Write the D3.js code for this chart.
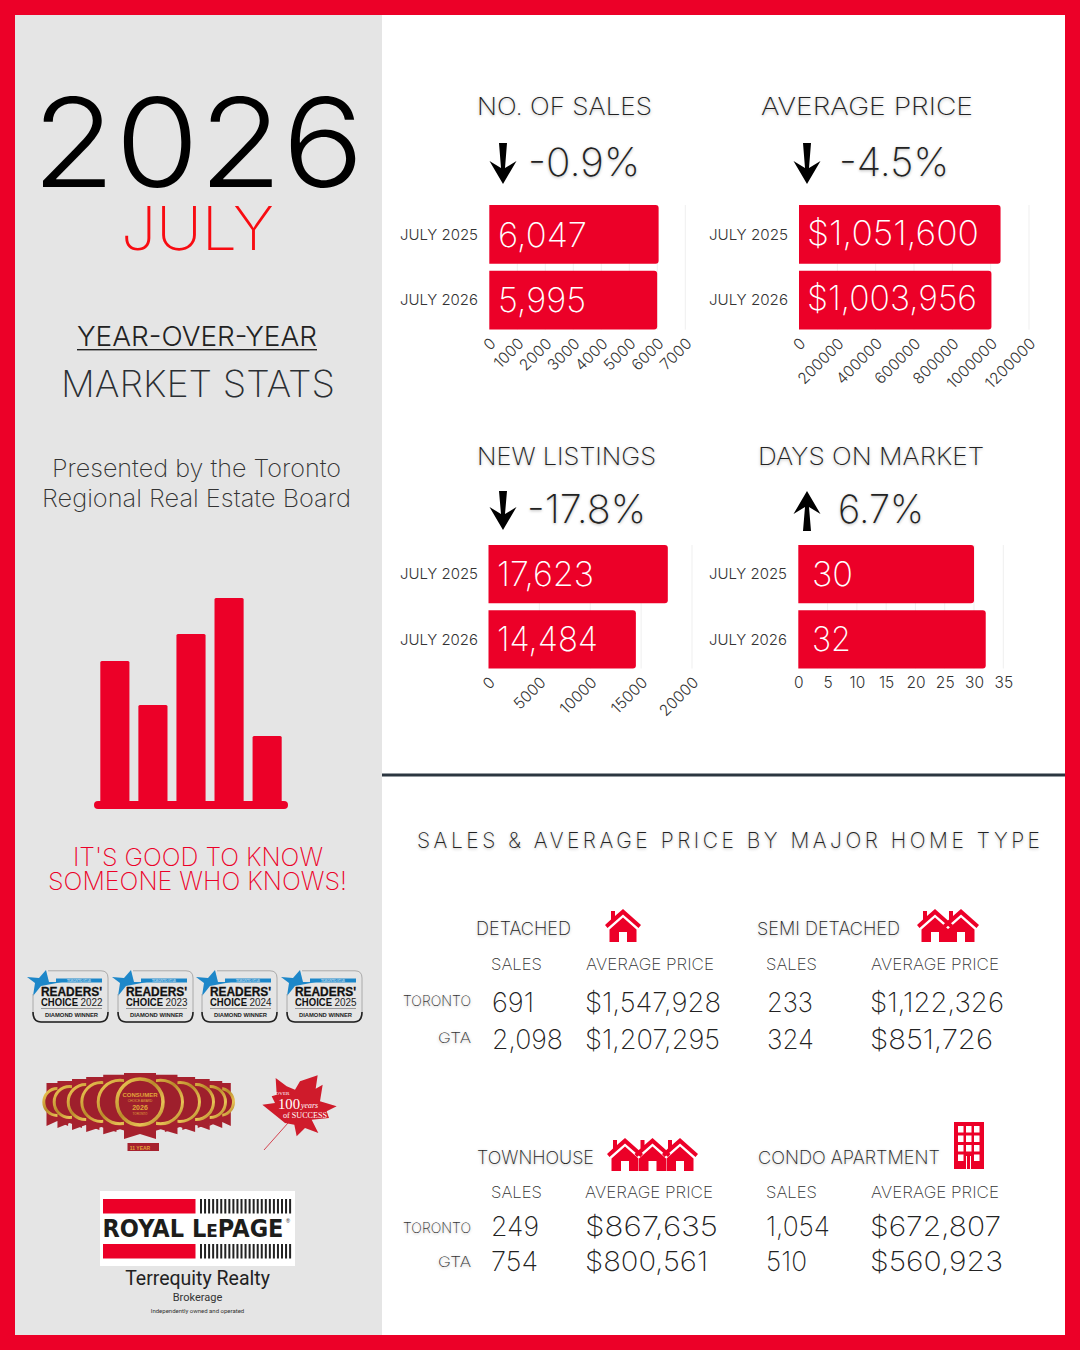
<!DOCTYPE html>
<html><head><meta charset="utf-8">
<script src="https://cdn.jsdelivr.net/npm/d3@7"></script>
<style>html,body{margin:0;padding:0;background:#fff}svg{display:block}</style></head>
<body><svg id="c" width="1080" height="1350"></svg>
<script>
const yearCats = ["JULY 2025","JULY 2026"];
const salesValues = [6047,5995];
const priceValues = [1051600,1003956];
const listingValues = [17623,14484];
const domValues = [30,32];
const salesTicks = [0,1000,2000,3000,4000,5000,6000,7000];
const priceTicks = [0,200000,400000,600000,800000,1000000,1200000];
const listingTicks = [0,5000,10000,15000,20000];
const domTicks = [0,5,10,15,20,25,30,35];
const chartTitles = ["NO. OF SALES","AVERAGE PRICE","NEW LISTINGS","DAYS ON MARKET"];
const changes = ["-0.9%","-4.5%","-17.8%","6.7%"];
const iconBars = [141,97,168,204,66];
const homeTypes = ["DETACHED","SEMI DETACHED","TOWNHOUSE","CONDO APARTMENT"];
const regions = ["TORONTO","GTA"];
const typeSales = [["691","2,098"],["233","324"],["249","754"],["1,054","510"]];
const typePrices = [["$1,547,928","$1,207,295"],["$1,122,326","$851,726"],["$867,635","$800,561"],["$672,807","$560,923"]];
const badgeYears = ["2022","2023","2024","2025"];

const RED="#ec0028", FF="Inter, Lato, sans-serif";
const svg=d3.select("#c");
const defs=svg.append("defs");
const gold=defs.append("linearGradient").attr("id","gold").attr("x1",0).attr("y1",0).attr("x2",1).attr("y2",1);
[["0","#f4cf5a"],["0.45","#b98a2a"],["0.75","#e8c356"],["1","#a8771f"]].forEach(s=>gold.append("stop").attr("offset",s[0]).attr("stop-color",s[1]));
function T(p,s,x,cy,size,w,o={}){
  const t=p.append("text").text(s).attr("x",x).attr("y",cy+size*0.36)
   .attr("font-family",o.ff||FF).attr("font-size",size).attr("font-weight",o.fw||300)
   .attr("fill",o.fill||"#222").attr("text-anchor",o.a||"start");
  if(w)t.attr("textLength",w).attr("lengthAdjust",o.adj||"spacingAndGlyphs");
  if(o.shadow)t.style("text-shadow","0 1px 3px rgba(0,0,0,.3)");
  return t;
}
svg.append("rect").attr("width",1080).attr("height",1350).attr("fill",RED);
svg.append("rect").attr("x",15).attr("y",15).attr("width",1050).attr("height",1320).attr("fill","#fff");
svg.append("rect").attr("x",15).attr("y",15).attr("width",367).attr("height",1320).attr("fill","#e5e5e5");
svg.append("rect").attr("x",382).attr("y",773.5).attr("width",683).attr("height",3).attr("fill","#2b3640");

// left panel
const L=svg.append("g");
T(L,"2026",32,142.5,124,332,{fill:"#000"});
T(L,"JULY",121,228,60,153,{fill:"#f80c12",fw:200});
T(L,"YEAR-OVER-YEAR",77,336,27,240,{fill:"#222"});
L.append("rect").attr("x",77).attr("y",349).attr("width",240).attr("height",1.4).attr("fill","#222");
T(L,"MARKET STATS",61,384,37,274,{fill:"#2b2f33",fw:200});
T(L,"Presented by the Toronto",52,468,24,289,{fill:"#333",fw:200});
T(L,"Regional Real Estate Board",42,498,24,309,{fill:"#333",fw:200});
T(L,"IT'S GOOD TO KNOW",73,857,25,250,{fill:RED,fw:200});
T(L,"SOMEONE WHO KNOWS!",48,881,25,299,{fill:RED,fw:200});

// icon bars
const ibx=d3.scaleBand().domain(d3.range(iconBars.length)).range([96.5,285.5]).paddingInner(0.235).paddingOuter(0.1);
const iby=d3.scaleLinear().domain([0,204]).range([802,598]);
L.selectAll(".ib").data(iconBars).join("rect").attr("x",(d,i)=>ibx(i)).attr("width",ibx.bandwidth())
 .attr("y",d=>iby(d)).attr("height",d=>802-iby(d)).attr("fill",RED).attr("rx",1.5);
L.append("rect").attr("x",94).attr("y",801).attr("width",194).attr("height",8).attr("rx",4).attr("fill",RED);

// charts
const charts=[
 {v:salesValues,t:salesTicks,x0:489.3,x1:685.3,y0:205,y1:329.6,lab:[498],cy:[234.5,299.5],w:[89,88],lx:400,lw:78,rot:1,title:[477,175,106],ch:[528,112,162],arr:[503,143,184,0],f:d3.format(",")},
 {v:priceValues,t:priceTicks,x0:799,x1:1029,y0:205,y1:329.6,cy:[232.5,297.5],lab:[807],w:[172,170],lx:709,lw:79,rot:1,title:[761,212,106],ch:[839,110,162],arr:[807,143,184,0],f:d=>"$"+d3.format(",")(d)},
 {v:listingValues,t:listingTicks,x0:488.5,x1:692,y0:545,y1:668.5,cy:[573.5,638.5],lab:[497],w:[97,101],lx:400,lw:78,rot:1,title:[477,179,456],ch:[527,119,509],arr:[503,491,530,0],f:d3.format(",")},
 {v:domValues,t:domTicks,x0:798.3,x1:1003.3,y0:545,y1:668.5,cy:[573.5,638.5],lab:[812],w:[41,39],lx:709,lw:78,rot:0,title:[758,226,456],ch:[838,86,509],arr:[807,491,531,1],f:d=>d}
];
charts.forEach((c,i)=>{
 const g=svg.append("g");
 const x=d3.scaleLinear().domain([0,c.t[c.t.length-1]]).range([c.x0,c.x1]);
 const y=d3.scaleBand().domain(yearCats).range([c.y0,c.y1]).paddingInner(0.105);
 g.selectAll(".g").data(c.t.slice(1)).join("line").attr("x1",d=>x(d)).attr("x2",d=>x(d)).attr("y1",c.y0).attr("y2",c.y1).attr("stroke","#efefef");
 const ax=g.append("g").attr("transform",`translate(0,${c.y1})`).call(d3.axisBottom(x).tickValues(c.t).tickSize(0).tickFormat(d=>d));
 ax.select(".domain").remove();
 ax.selectAll("text").attr("font-family",FF).attr("font-weight",300).attr("font-size",15.5).attr("fill","#333");
 if(c.rot){
  ax.selectAll("text").attr("text-anchor","end").attr("dy",0).attr("y",0)
   .attr("transform",`translate(7,15) rotate(-45)`);
 } else {
  ax.selectAll("text").attr("y",8).attr("dy","0.71em");
 }
 g.selectAll(".b").data(c.v).join("path").attr("fill",RED)
  .attr("d",(d,k)=>{const X=x(d),Y=y(yearCats[k]),H=y.bandwidth(),r=3;
    return `M${c.x0},${Y}H${X-r}Q${X},${Y} ${X},${Y+r}V${Y+H-r}Q${X},${Y+H} ${X-r},${Y+H}H${c.x0}Z`;});
 c.v.forEach((d,k)=>{
  T(g,c.f(d),c.lab[0],c.cy[k],34,c.w[k],{fill:"#fff",fw:200});
  T(g,yearCats[k],c.lx,y(yearCats[k])+y.bandwidth()/2,14.5,c.lw,{fill:"#333"});
 });
 T(g,chartTitles[i],c.title[0],c.title[2],24,c.title[1],{fill:"#222",shadow:1,fw:200});
 T(g,changes[i],c.ch[0],c.ch[2],39,c.ch[1],{fill:"#222",shadow:1,fw:200});
 const [ax0,t,b,up]=c.arr;
 const ah=18,aw=13.5,sw=3;
 const pts=up?[[ax0,t],[ax0+aw,t+ah+5],[ax0+2,t+16],[ax0+sw+1,b],[ax0-sw-1,b],[ax0-2,t+16],[ax0-aw,t+ah+5]]
             :[[ax0,b],[ax0+aw,b-ah-5],[ax0+2,b-16],[ax0+sw+1,t],[ax0-sw-1,t],[ax0-2,b-16],[ax0-aw,b-ah-5]];
 g.append("polygon").attr("points",pts.map(p=>p.join(",")).join(" ")).attr("fill","#000");
});

// table
const R=svg.append("g");
T(R,"SALES & AVERAGE PRICE BY MAJOR HOME TYPE",417,840,21,623,{fill:"#222",adj:"spacing",shadow:1,fw:200});
function house(g,x,y,s){
 const h=g.append("g").attr("transform",`translate(${x},${y}) scale(${s})`);
 h.append("path").attr("fill",RED).attr("d","M18,0 L36,16 L33.5,19 L18,5.5 L2.5,19 L0,16 L6,10.6 L6,2 L10,2 L10,7 Z");
 h.append("path").attr("fill",RED).attr("d","M18,8.5 L31.5,20.5 L31.5,33 L22,33 L22,23 L14,23 L14,33 L4.5,33 L4.5,20.5 Z");
}
const layout=[
 {tx:476,tw:95,ty:929,sx:491,px:586,hy:964,rowL:[1001,1038],rowV:[1002,1039],vx:[492,585],sw:[42,71],pw:[136,135]},
 {tx:757,tw:143,ty:929,sx:766,px:871,hy:964,rowV:[1002,1039],vx:[767,870],sw:[46,47],pw:[134,123]},
 {tx:477,tw:117,ty:1158,sx:491,px:585,hy:1192,rowL:[1228,1262],rowV:[1226,1261],vx:[491,585],sw:[48,47],pw:[133,123]},
 {tx:758,tw:182,ty:1158,sx:766,px:871,hy:1192,rowV:[1226,1261],vx:[766,870],sw:[64,41],pw:[131,133]}
];
layout.forEach((l,i)=>{
 T(R,homeTypes[i],l.tx,l.ty,18,l.tw,{fill:"#222",shadow:1,fw:200});
 T(R,"SALES",l.sx,l.hy,16.5,51,{fill:"#333",fw:200});
 T(R,"AVERAGE PRICE",l.px,l.hy,16.5,128,{fill:"#333",fw:200});
 if(l.rowL) regions.forEach((r,k)=>T(R,r,471,l.rowL[k],14.5,r=="GTA"?33:68,{a:"end",fill:"#333",shadow:1,fw:200}));
 [0,1].forEach(k=>{
  T(R,typeSales[i][k],l.vx[0],l.rowV[k],27,l.sw[k],{fill:"#222",fw:200});
  T(R,typePrices[i][k],l.vx[1],l.rowV[k],27,l.pw[k],{fill:"#222",fw:200});
 });
});
house(R,605,909,1);
house(R,917,909,1);house(R,943,909,1);
house(R,607,1138,1);house(R,634.5,1138,1);house(R,662,1138,1);
R.append("rect").attr("x",954).attr("y",1122).attr("width",30).attr("height",47).attr("fill",RED);
d3.range(4).forEach(r=>d3.range(3).forEach(c=>{
  if(r<3||c!==1) R.append("rect").attr("x",958+c*8).attr("y",1126+r*9.5).attr("width",5.5).attr("height",6.5).attr("fill","#fff");
}));
R.append("rect").attr("x",966).attr("y",1156).attr("width",1).attr("height",13).attr("fill","#fff");
R.append("rect").attr("x",970).attr("y",1156).attr("width",1).attr("height",13).attr("fill","#fff");

// badges
const B=svg.append("g"), LS="'Liberation Sans'";
badgeYears.forEach((yr,i)=>{
 const x=[32,117,201,286][i], g=B.append("g").attr("transform",`translate(${x},970)`);
 g.append("path").attr("fill","#1d87c9").attr("d","M14,0 L17,12 L30,12 L9,16 L1,26 L3,13 L-5,7 L7,8 Z");
 g.append("path").attr("d","M16,.8 H69 Q76,.8 76,8 V44 Q76,52 68,52 H9 Q1,52 1,44 V24").attr("fill","none").attr("stroke","#aaa").attr("stroke-width",1);
 g.append("path").attr("d","M1,42 Q1,52 9,52 H68 Q76,52 76,42").attr("fill","none").attr("stroke","#222").attr("stroke-width",1.6);
 g.append("rect").attr("x",24).attr("y",8.5).attr("width",46).attr("height",4).attr("fill","#1d87c9");
 g.append("text").text("TORONTO STAR").attr("x",47).attr("y",11.8).attr("font-size",3.2).attr("fill","#fff").attr("text-anchor","middle").attr("font-family","Liberation Serif");
 g.append("text").text("READERS'").attr("x",9).attr("y",25.5).attr("font-size",12).attr("font-weight",700).attr("font-family",LS).attr("fill","#111").attr("stroke","#111").attr("stroke-width",.3).attr("textLength",61).attr("lengthAdjust","spacingAndGlyphs");
 g.append("text").text("CHOICE").attr("x",9).attr("y",35.5).attr("font-size",10.5).attr("font-weight",700).attr("font-family",LS).attr("fill","#111").attr("textLength",37).attr("lengthAdjust","spacingAndGlyphs");
 g.append("text").text(yr).attr("x",48.5).attr("y",35.5).attr("font-size",10.5).attr("font-family",LS).attr("fill","#222").attr("textLength",22).attr("lengthAdjust","spacingAndGlyphs");
 g.append("rect").attr("x",9).attr("y",38).attr("width",61).attr("height",1).attr("fill","#999");
 g.append("text").text("DIAMOND WINNER").attr("x",39.5).attr("y",46.5).attr("font-size",5.5).attr("font-weight",700).attr("font-family",LS).attr("fill","#222").attr("text-anchor","middle").attr("textLength",53).attr("lengthAdjust","spacingAndGlyphs");
});

// medals
const M=svg.append("g"), CY=1102;
const rings=[[57.3,15],[220,15],[69.7,17],[210,17],[85.7,19],[196,19],[101.3,21],[180,21],[120,23.3],[160.7,23.3]];
const ribbon=(cx,r,top,bot,hw)=>M.append("path").attr("fill","#a6212e").attr("d",`M${cx-hw},${top} H${cx+hw} V${bot} L${cx},${bot-5} L${cx-hw},${bot} Z`);
rings.forEach(([cx,r])=>{
 ribbon(cx,r,CY-r-4,CY+r+9,r*.72);
 M.append("circle").attr("cx",cx).attr("cy",CY).attr("r",r-1.5).attr("fill","#9e1f2c").attr("stroke","url(#gold)").attr("stroke-width",3);
});
ribbon(140,25,1073,1139,16);
M.append("rect").attr("x",127.5).attr("y",1143).attr("width",31.5).attr("height",8).attr("fill","#a6212e");
M.append("circle").attr("cx",140).attr("cy",CY).attr("r",23).attr("fill","#9e1f2c").attr("stroke","url(#gold)").attr("stroke-width",3.5);
const mt=(s,y,sz,w)=>M.append("text").text(s).attr("x",140).attr("y",y).attr("font-size",sz).attr("font-weight",w).attr("font-family",LS).attr("fill","#e0a63a").attr("text-anchor","middle");
mt("CONSUMER",1097,6,700);mt("CHOICE AWARD",1101.5,3.2,400);mt("2026",1109.5,7,700);mt("TORONTO",1114.5,3,400);mt("11 YEAR",1150,5,700);

// leaf
const LF=svg.append("g"), lx=z=>255+z/3, ly=z=>1068+z/3;
const leafPts=[[188,22],[182,62],[203,50],[195,100],[245,115],[215,130],[222,150],[170,155],[190,195],[150,180],[125,205],[118,170],[90,165],[22,110],[60,105],[50,85],[65,80],[62,30],[95,55],[120,65],[135,40]];
LF.append("polygon").attr("fill","#cf1b2b").attr("points",leafPts.map(p=>lx(p[0])+","+ly(p[1])).join(" "));
LF.append("line").attr("x1",288).attr("y1",1123).attr("x2",264).attr("y2",1150).attr("stroke","#cf1b2b").attr("stroke-width",.8);
const lt=(s,x,y,sz,st,w)=>{const t=LF.append("text").text(s).attr("x",x).attr("y",y).attr("font-size",sz).attr("font-style",st).attr("font-family","'Liberation Serif'").attr("fill","#fff");if(w)t.attr("textLength",w).attr("lengthAdjust","spacingAndGlyphs");};
lt("OVER",275.5,1095,4.5,"normal",14);lt("100",278,1108.5,14.5,"normal",22);lt("years",301,1108,8,"italic",17);lt("of SUCCESS",283,1118,8,"normal",44);

// logo
const G=svg.append("g");
G.append("rect").attr("x",100).attr("y",1191).attr("width",195).attr("height",75).attr("fill","#fff");
[1199,1244].forEach(y=>{
 G.append("rect").attr("x",103).attr("y",y).attr("width",92.5).attr("height",14.5).attr("fill",RED);
 d3.range(200,292,4.05).forEach(x=>G.append("rect").attr("x",x).attr("y",y).attr("width",2).attr("height",14.5).attr("fill","#222"));
});
const lg=G.append("text").attr("x",102.5).attr("y",1237).attr("font-family","'DejaVu Sans'").attr("font-weight",700).attr("font-size",24).attr("fill","#1d1d1b").attr("textLength",181).attr("lengthAdjust","spacingAndGlyphs");
lg.append("tspan").text("ROYAL L");
lg.append("tspan").text("E").attr("font-size",18);
lg.append("tspan").text("PAGE");
G.append("text").text("®").attr("x",286).attr("y",1223).attr("font-size",5.5).attr("font-family",LS).attr("fill","#222");
const RB="Roboto, sans-serif";
G.append("text").text("Terrequity Realty").attr("x",197.5).attr("y",1285).attr("text-anchor","middle").attr("font-family",RB).attr("font-size",19.5).attr("fill","#222");
G.append("text").text("Brokerage").attr("x",197.5).attr("y",1301).attr("text-anchor","middle").attr("font-family",RB).attr("font-size",11).attr("fill","#333");
G.append("text").text("Independently owned and operated").attr("x",197.5).attr("y",1313).attr("text-anchor","middle").attr("font-family",RB).attr("font-size",6).attr("fill","#333");
</script></body></html>
